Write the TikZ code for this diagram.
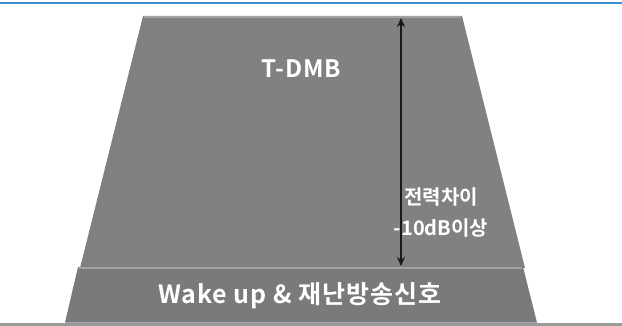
\documentclass[tikz,border=0pt]{standalone}
\usepackage{fontspec}
\newfontfamily\kr{Noto Sans CJK KR}[BoldFont={* Bold}]
\newfontfamily\krwide{Noto Sans CJK KR}[BoldFont={* Bold},LetterSpace=4]
\usetikzlibrary{arrows.meta}
\definecolor{topblue}{HTML}{3B8ECC}
\definecolor{bigfill}{HTML}{818183}
\definecolor{bandfill}{HTML}{7A7A7C}
\definecolor{bevel}{HTML}{A2A2A4}
\definecolor{baseg}{HTML}{9A9A9A}
\tikzset{
  lbl/.style={text=white,inner sep=0pt},
  hl/.style={bevel,line width=1.4pt},
}
\begin{document}
\begin{tikzpicture}[x=1pt,y=-1pt]
\useasboundingbox (0,0) rectangle (622,326);
% top blue rule
\draw[topblue,line width=2pt] (0,3) -- (622,3);
% base line
\fill[baseg] (0,322.5) rectangle (622,326);
% big trapezoid
\fill[bigfill] (143,16) -- (462,16) -- (525,268) -- (80,268) -- cycle;
\draw[hl] (144,17) -- (461,17);
% bottom band
\fill[bandfill] (78,267) -- (523,267) -- (537,322.5) -- (65,322.5) -- cycle;
\draw[hl] (79,268) -- (522,268);
% labels
\node[lbl,font=\krwide\bfseries\fontsize{24}{28}\selectfont] (tdmb) at (301,68.5) {T-DMB};
\node[lbl,font=\krwide\bfseries\fontsize{25}{29}\selectfont] (wake) at (300,296) {Wake up \& 재난방송신호};
\node[lbl,font=\kr\bfseries\fontsize{20}{31}\selectfont,align=center] (diff) at (441,213) {전력차이\\-10dB이상};
% arrow
\coordinate (atop) at (401,18);
\coordinate (abot) at (401,266);
\draw[{Stealth[length=9pt,width=8pt]}-{Stealth[length=9pt,width=8pt]},line width=2pt,black!90] (atop) -- (abot);
\end{tikzpicture}
\end{document}
